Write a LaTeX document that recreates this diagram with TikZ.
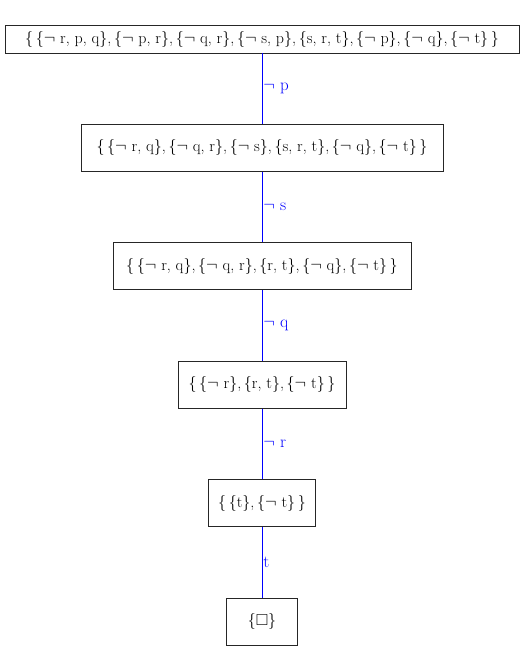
\documentclass[tikz,border=0pt]{standalone}
\usepackage{amssymb}
\usetikzlibrary{positioning}

\tikzset{
    clause/.style={draw=black!85, line width=0.9pt, fill=white, align=center,
        inner sep=0pt, minimum height=47pt, font=\fontsize{16}{19}\selectfont},
    resolve edge/.style={blue, line width=0.8pt},
    lit/.style={midway, right, inner sep=1pt, text=blue, font=\fontsize{17}{20}\selectfont},
}
\newcommand{\nt}{$\neg$\ }
\newcommand{\sep}{,\,}

\begin{document}
\begin{tikzpicture}[x=1pt, y=1pt]

\useasboundingbox (0,0) rectangle (524,-649);

% The clause sets, one below the other
\node[clause, minimum width=514pt, minimum height=28pt] (s1) at (262,-39)
    {\{\,\{\nt r, p, q\}\sep\{\nt p, r\}\sep\{\nt q, r\}\sep\{\nt s, p\}\sep\{s, r, t\}\sep\{\nt p\}\sep\{\nt q\}\sep\{\nt t\}\,\}};
\node[clause, minimum width=362pt, below=70.5pt of s1] (s2)
    {\{\,\{\nt r, q\}\sep\{\nt q, r\}\sep\{\nt s\}\sep\{s, r, t\}\sep\{\nt q\}\sep\{\nt t\}\,\}};
\node[clause, minimum width=298pt, below=70.5pt of s2] (s3)
    {\{\,\{\nt r, q\}\sep\{\nt q, r\}\sep\{r, t\}\sep\{\nt q\}\sep\{\nt t\}\,\}};
\node[clause, minimum width=168pt, below=70.5pt of s3] (s4)
    {\{\,\{\nt r\}\sep\{r, t\}\sep\{\nt t\}\,\}};
\node[clause, minimum width=107pt, below=70.5pt of s4] (s5)
    {\{\,\{t\}\sep\{\nt t\}\,\}};
\node[clause, minimum width=71pt, below=70.5pt of s5] (s6)
    {\{$\square$\}};

% Resolution steps, labelled with the literal
\draw[resolve edge] (s1) -- (s2) node[lit] {\nt p};
\draw[resolve edge] (s2) -- (s3) node[lit] {\nt s};
\draw[resolve edge] (s3) -- (s4) node[lit] {\nt q};
\draw[resolve edge] (s4) -- (s5) node[lit] {\nt r};
\draw[resolve edge] (s5) -- (s6) node[lit] {t};

\end{tikzpicture}
\end{document}
